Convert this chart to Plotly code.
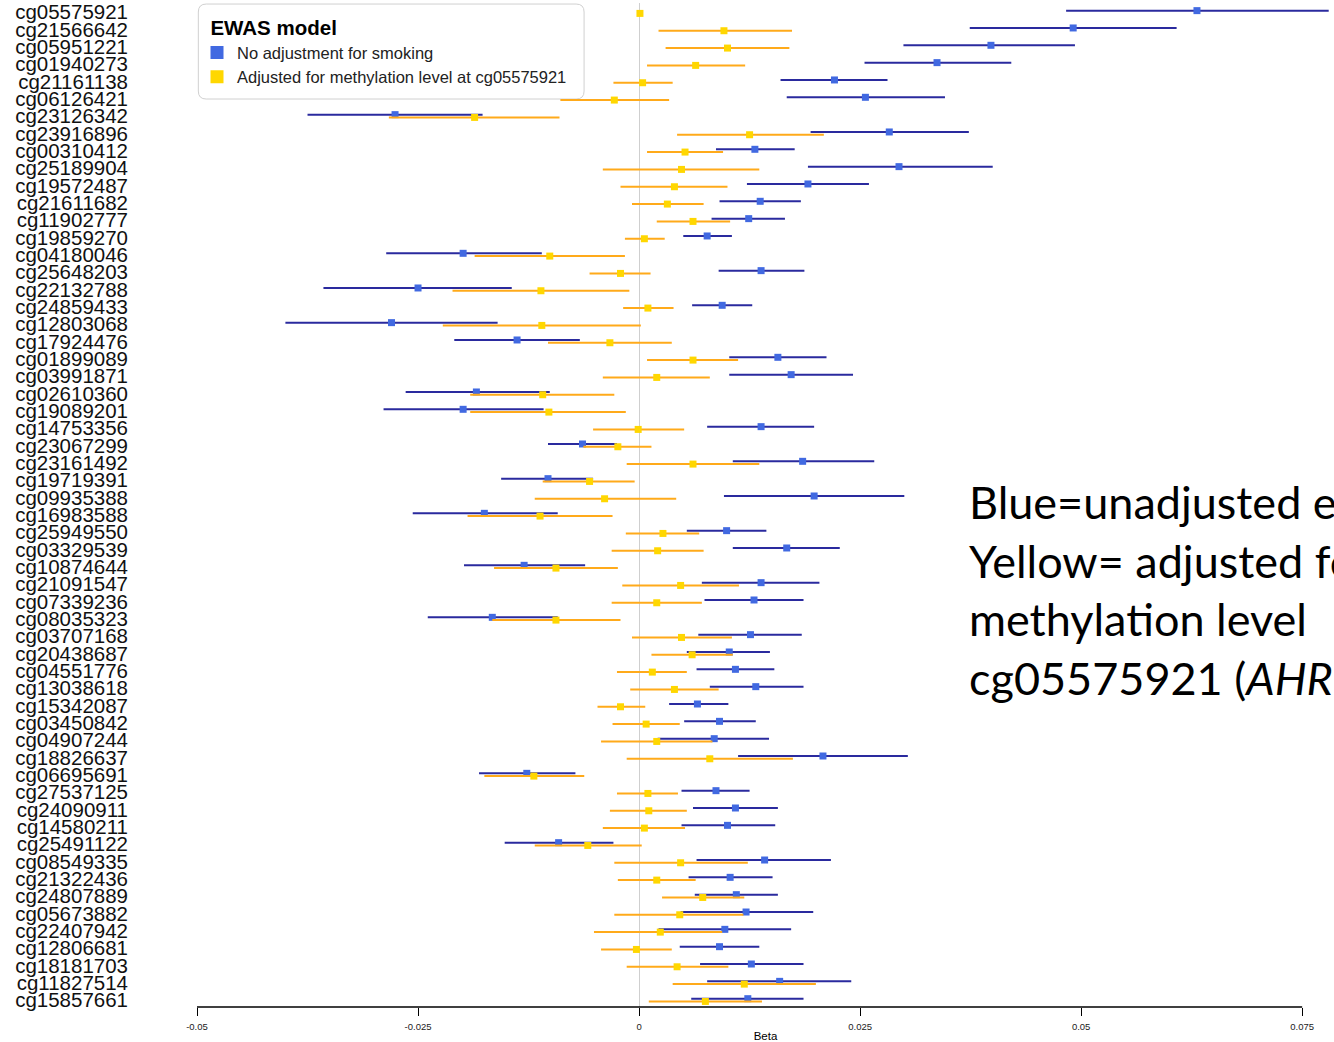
import numpy as np
import plotly.graph_objects as go

cpg = ["cg05575921", "cg21566642", "cg05951221", "cg01940273", "cg21161138", "cg06126421",
       "cg23126342", "cg23916896", "cg00310412", "cg25189904", "cg19572487", "cg21611682",
       "cg11902777", "cg19859270", "cg04180046", "cg25648203", "cg22132788", "cg24859433",
       "cg12803068", "cg17924476", "cg01899089", "cg03991871", "cg02610360", "cg19089201",
       "cg14753356", "cg23067299", "cg23161492", "cg19719391", "cg09935388", "cg16983588",
       "cg25949550", "cg03329539", "cg10874644", "cg21091547", "cg07339236", "cg08035323",
       "cg03707168", "cg20438687", "cg04551776", "cg13038618", "cg15342087", "cg03450842",
       "cg04907244", "cg18826637", "cg06695691", "cg27537125", "cg24090911", "cg14580211",
       "cg25491122", "cg08549335", "cg21322436", "cg24807889", "cg05673882", "cg22407942",
       "cg12806681", "cg18181703", "cg11827514", "cg15857661"]

# values in units of 0.001 (beta x 1000)
unadj_beta = [63.1, 49.1, 39.8, 33.7, 22.1, 25.6, -27.6, 28.3, 13.1, 29.4, 19.1, 13.7,
              12.4, 7.7, -19.9, 13.8, -25.0, 9.4, -28.0, -13.8, 15.7, 17.2, -18.4, -19.9,
              13.8, -6.4, 18.5, -10.3, 19.8, -17.5, 9.9, 16.7, -13.0, 13.8, 13.0, -16.6,
              12.6, 10.2, 10.9, 13.2, 6.6, 9.1, 8.5, 20.8, -12.7, 8.7, 10.9, 10.0,
              -9.1, 14.2, 10.3, 11.0, 12.1, 9.7, 9.1, 12.7, 15.9, 12.3]
unadj_lo = [48.3, 37.4, 29.9, 25.5, 16.0, 16.7, -37.5, 19.4, 8.7, 19.1, 12.2, 9.1,
            8.2, 5.0, -28.6, 9.0, -35.7, 6.0, -40.0, -20.9, 10.2, 10.2, -26.4, -28.9,
            7.7, -10.3, 10.6, -15.6, 9.6, -25.6, 5.4, 10.6, -19.8, 7.1, 7.4, -23.9,
            6.7, 5.4, 6.5, 8.0, 3.4, 5.1, 2.1, 11.2, -18.1, 4.8, 6.1, 4.8,
            -15.2, 6.5, 5.6, 6.3, 4.7, 2.2, 4.6, 6.9, 7.7, 5.9]
unadj_hi = [78.0, 60.8, 49.3, 42.1, 28.1, 34.6, -17.7, 37.3, 17.6, 40.0, 26.0, 18.3,
            16.5, 10.5, -11.0, 18.7, -14.4, 12.8, -16.0, -6.7, 21.2, 24.2, -10.1, -10.8,
            19.8, -2.5, 26.6, -5.2, 30.0, -9.2, 14.4, 22.7, -6.1, 20.4, 18.6, -9.2,
            18.4, 14.8, 15.3, 18.6, 10.1, 13.2, 14.7, 30.4, -7.2, 12.5, 15.7, 15.4,
            -2.9, 21.7, 15.1, 15.7, 19.7, 17.2, 13.6, 18.6, 24.0, 18.6]

adj_beta = [0.1, 9.6, 10.0, 6.4, 0.4, -2.8, -18.6, 12.5, 5.2, 4.8, 4.0, 3.2,
            6.1, 0.6, -10.1, -2.1, -11.1, 1.0, -11.0, -3.3, 6.1, 2.0, -10.9, -10.2,
            -0.1, -2.4, 6.1, -5.6, -3.9, -11.2, 2.7, 2.1, -9.4, 4.7, 2.0, -9.4,
            4.8, 6.0, 1.5, 4.0, -2.1, 0.8, 2.0, 8.0, -11.9, 1.0, 1.1, 0.6,
            -5.8, 4.7, 2.0, 7.2, 4.6, 2.4, -0.3, 4.3, 11.9, 7.5]
adj_lo = [-0.2, 2.2, 3.0, 0.9, -2.9, -8.9, -28.3, 4.3, 0.9, -4.1, -2.1, -0.8,
          2.0, -1.6, -18.6, -5.6, -21.1, -1.8, -22.2, -10.3, 0.9, -4.1, -19.1, -19.1,
          -5.2, -6.3, -1.4, -10.9, -11.8, -19.4, -1.5, -3.1, -16.4, -1.9, -3.1, -16.6,
          -0.8, 1.4, -2.5, -1.0, -4.7, -3.0, -4.3, -1.4, -17.5, -2.5, -3.3, -4.1,
          -11.8, -2.8, -2.4, 2.6, -2.8, -5.1, -4.3, -1.4, 3.8, 1.1]
adj_hi = [0.4, 17.3, 17.0, 12.0, 3.8, 3.4, -9.0, 20.9, 9.5, 13.6, 10.0, 7.3,
          10.3, 2.9, -1.6, 1.3, -1.1, 3.9, 0.2, 3.7, 11.2, 8.0, -2.8, -1.5,
          5.1, 1.4, 13.6, -0.5, 4.2, -3.0, 6.8, 7.3, -2.4, 11.3, 7.1, -2.1,
          10.5, 10.6, 5.4, 9.0, 0.7, 4.6, 8.3, 17.4, -6.2, 4.4, 5.4, 5.2,
          0.3, 12.3, 6.4, 11.9, 11.8, 9.4, 3.7, 10.1, 20.0, 13.9]

tick_vals = [-0.05, -0.025, 0, 0.025, 0.05, 0.075]
tick_text = ["-0.05", "-0.025", "0", "0.025", "0.05", "0.075"]

ub = np.array(unadj_beta) / 1000
ul = np.array(unadj_lo) / 1000
uh = np.array(unadj_hi) / 1000
ab = np.array(adj_beta) / 1000
al = np.array(adj_lo) / 1000
ah = np.array(adj_hi) / 1000

rows = np.arange(len(cpg))
BLUE_LINE = "#2a2a9e"
BLUE_MARK = "#4169E1"
YEL_LINE = "#FFAA1A"
YEL_MARK = "#FFD700"

fig = go.Figure()
fig.add_trace(go.Scatter(
    x=ub, y=rows - 0.08, mode="markers", showlegend=False,
    marker=dict(symbol="square", size=7, color=BLUE_MARK),
    error_x=dict(type="data", symmetric=False, array=uh - ub, arrayminus=ub - ul,
                 color=BLUE_LINE, thickness=2, width=0),
))
fig.add_trace(go.Scatter(
    x=ab, y=rows + 0.08, mode="markers", showlegend=False,
    marker=dict(symbol="square", size=7, color=YEL_MARK),
    error_x=dict(type="data", symmetric=False, array=ah - ab, arrayminus=ab - al,
                 color=YEL_LINE, thickness=2, width=0),
))
# legend entries
fig.add_trace(go.Scatter(x=[None], y=[None], mode="markers", name="No adjustment for smoking",
                         marker=dict(symbol="square", size=13, color=BLUE_MARK)))
fig.add_trace(go.Scatter(x=[None], y=[None], mode="markers",
                         name="Adjusted for methylation level at cg05575921",
                         marker=dict(symbol="square", size=13, color=YEL_MARK)))

# rounded legend box
x0, x1 = -0.04985, -0.00622
y0, y1 = -0.46, 5.02
rx, ry = 0.0009, 0.46
path = (f"M {x0+rx},{y0} L {x1-rx},{y0} Q {x1},{y0} {x1},{y0+ry} "
        f"L {x1},{y1-ry} Q {x1},{y1} {x1-rx},{y1} L {x0+rx},{y1} "
        f"Q {x0},{y1} {x0},{y1-ry} L {x0},{y0+ry} Q {x0},{y0} {x0+rx},{y0} Z")
fig.add_shape(type="path", path=path, xref="x", yref="y",
              line=dict(color="#d0d0d0", width=1), fillcolor="white", layer="below")
# x axis line (only across the labelled range)
fig.add_shape(type="line", xref="x", yref="paper", x0=tick_vals[0], x1=tick_vals[-1],
              y0=0, y1=0, line=dict(color="black", width=1.5))

fig.add_annotation(
    xref="paper", yref="paper", x=0.6772, y=0.4153, xanchor="left", yanchor="middle",
    align="left", showarrow=False,
    text="Blue=unadjusted effect<br>Yellow= adjusted for<br>methylation level<br>cg05575921 (<i>AHRR</i>)",
    font=dict(family="Lato", size=45, color="black"),
)

fig.update_layout(
    width=1334, height=1042,
    margin=dict(l=197, r=0, t=3, b=35),
    paper_bgcolor="white", plot_bgcolor="white",
    font=dict(family="Liberation Sans, Arial", color="black"),
    showlegend=True,
    legend=dict(x=0, y=0.9945, xanchor="left", yanchor="top", bgcolor="rgba(0,0,0,0)",
                borderwidth=0, font=dict(size=16.5, color="#222"),
                title=dict(text="&nbsp;&nbsp;<b>EWAS model</b>", font=dict(size=20.5, color="black")),
                tracegroupgap=0),
    xaxis=dict(range=[-0.05, 0.0786], tickvals=tick_vals, ticktext=tick_text,
               ticks="outside", ticklen=8, tickcolor="black", tickwidth=1,
               showline=False, showgrid=False, zeroline=True, zerolinecolor="#cfcfcf",
               zerolinewidth=1, tickfont=dict(size=9.5, color="#222"), ticklabelstandoff=3,
               title=dict(text="Beta", font=dict(size=11.5), standoff=5), automargin=False),
    yaxis=dict(range=[57.4, -0.52], tickmode="array", tickvals=rows, ticktext=cpg,
               showgrid=False, zeroline=False, showline=False, ticks="",
               ticklabelstandoff=68, tickfont=dict(size=20.5, color="#111"), automargin=False),
)

fig.write_html("out.html")
